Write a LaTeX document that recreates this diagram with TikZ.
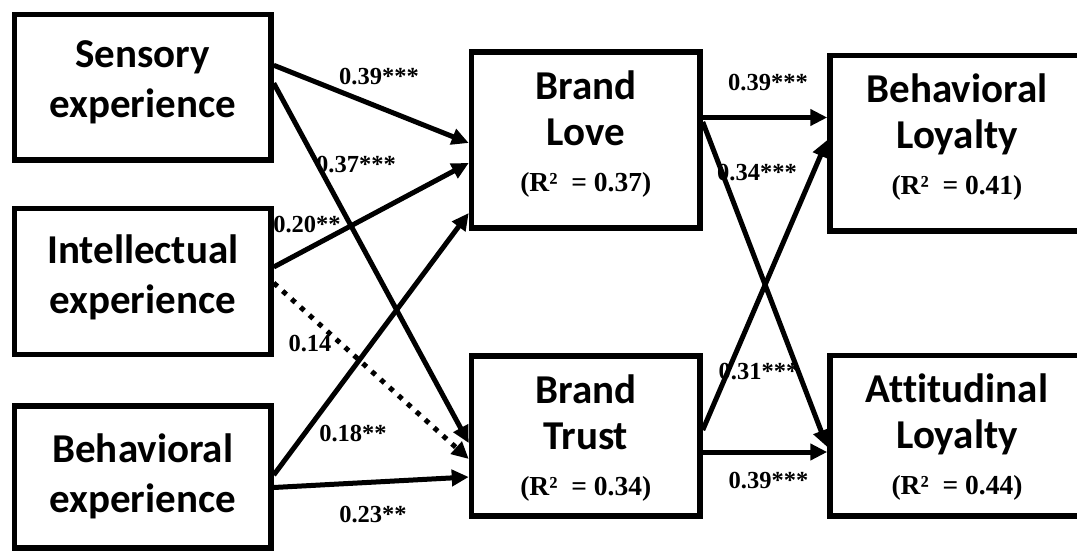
\documentclass[tikz,border=0pt]{standalone}
\usepackage{fontspec}
\newfontfamily\calibrifont{Carlito}[Ligatures=NoCommon]
\newfontfamily\serifont{Liberation Serif}
\usetikzlibrary{arrows.meta,positioning}
\newcommand{\rsq}[1]{{\serifont\bfseries\fontsize{27.5}{30}\selectfont (R²\ \ = #1)}}
\tikzset{
  box/.style={draw, line width=5.5pt, inner sep=0pt},
  intext/.style={align=center, inner sep=0pt, font=\calibrifont\bfseries\fontsize{41}{50}\selectfont},
  outtext/.style={intext, font=\calibrifont\bfseries\fontsize{41}{46}\selectfont},
  coef/.style={inner sep=0pt, font=\serifont\bfseries\fontsize{24.5}{28}\selectfont},
  effect/.style={line width=5pt, -{Triangle[length=17pt,width=16pt]}},
  nseffect/.style={effect, dash pattern=on 5pt off 7pt},
}
\begin{document}
\begin{tikzpicture}[x=1pt,y=-1pt]
\useasboundingbox (0,0) rectangle (1077,551);
\clip (0,0) rectangle (1077,551);
%%% experience boxes on the left
\node[box, minimum width=256.5pt, minimum height=145.5pt] (sens) at (142.75,87.25) {};
\node[box, minimum width=256.5pt, minimum height=146pt] (intel) at (142.75,281.5) {};
\node[box, minimum width=256.5pt, minimum height=142pt] (behav) at (142.75,477) {};
\node[intext, below=29pt of sens.north] (senstext) {Sensory\\experience};
\node[intext, below=29pt of intel.north] (inteltext) {Intellectual\\experience};
\node[intext, below=30pt of behav.north] (behavtext) {Behavioral\\experience};
%%% brand love and brand trust
\node[box, minimum width=228.5pt, minimum height=176pt] (love) at (585.75,140) {};
\node[box, minimum width=228.5pt, minimum height=160pt] (trust) at (585.75,436) {};
\node[outtext, below=21pt of love.north] (lovetext) {Brand\\Love\\\rsq{0.37}};
\node[outtext, below=21pt of trust.north] (trusttext) {Brand\\Trust\\\rsq{0.34}};
%%% loyalty boxes on the right
\node[box, minimum width=254pt, minimum height=175.5pt] (bloy) at (957,143.25) {};
\node[box, minimum width=254pt, minimum height=160.5pt] (aloy) at (957,435.75) {};
\node[outtext, below=21pt of bloy.north] (bloytext) {Behavioral\\Loyalty\\\rsq{0.41}};
\node[outtext, below=21pt of aloy.north] (aloytext) {Attitudinal\\Loyalty\\\rsq{0.44}};
%%% path coefficients
\node[coef] (sl) at (379,76.5) {0.39***};
\node[coef] (st) at (356,164.5) {0.37***};
\node[coef] (il) at (307,225) {0.20**};
\node[coef] (it) at (310,343.5) {0.14};
\node[coef] (bl) at (353,433.5) {0.18**};
\node[coef] (bt) at (373,515) {0.23**};
\node[coef] (lb) at (768,82.5) {0.39***};
\node[coef] (la) at (757,172.5) {0.34***};
\node[coef] (tb) at (758.5,371.5) {0.31***};
\node[coef] (ta) at (768.5,481) {0.39***};
%%% paths
\draw[effect] ([yshift=22pt]sens.east) -- ([yshift=-3pt]love.west);
\draw[effect] ([yshift=4pt]sens.east) -- ([yshift=-7pt]trust.west);
\draw[effect] ([yshift=14.5pt]intel.east) -- ([yshift=-23pt]love.west);
\draw[nseffect] ([yshift=-1.5pt]intel.east) -- ([yshift=-23pt]trust.west);
\draw[effect] ([yshift=2pt]behav.east) -- ([yshift=-73pt]love.west);
\draw[effect] ([yshift=-10.5pt]behav.east) -- ([yshift=-41pt]trust.west);
\draw[effect] ([yshift=22.5pt]love.east) -- ([yshift=25.75pt]bloy.west);
\draw[effect] ([yshift=18pt]love.east) -- ([yshift=-11.25pt]aloy.west);
\draw[effect] ([yshift=6pt]trust.east) -- ([yshift=3.25pt]bloy.west);
\draw[effect] ([yshift=-16pt]trust.east) -- ([yshift=-16.25pt]aloy.west);
\end{tikzpicture}
\end{document}
